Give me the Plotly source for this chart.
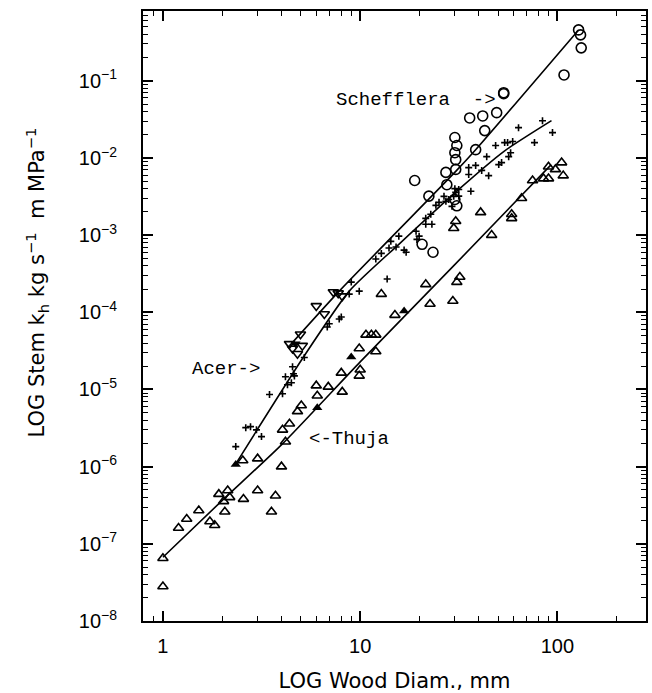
import plotly.graph_objects as go

# ---------------- data ----------------
# Thuja (open triangles)
thuja_x = [1.0, 1.0, 1.20, 1.32, 1.52, 1.73, 1.83, 1.92, 2.03, 2.06, 2.13, 2.18, 2.56, 3.02,
           3.55, 3.72, 3.99, 3.02, 2.54, 4.18, 4.04, 4.38, 4.81, 5.03, 5.99, 6.06, 6.89, 8.11,
           8.02, 9.89, 10.0, 9.89, 10.7, 11.4, 12.0, 12.0, 12.8, 15.0, 21.5, 22.6, 29.5, 30.9,
           32.0, 40.8, 30.5, 29.8, 46.4, 58.6, 58.6, 65.8, 74.8, 85.0, 90.1, 90.1, 97.7, 105, 107]
thuja_y = [6.5e-8, 2.8e-8, 1.6e-7, 2.1e-7, 2.7e-7, 1.95e-7, 1.74e-7, 4.4e-7, 3.55e-7, 2.6e-7,
           4.9e-7, 4.0e-7, 3.8e-7, 4.9e-7, 2.6e-7, 4.2e-7, 1.0e-6, 1.27e-6, 1.2e-6, 2.1e-6,
           3.0e-6, 3.6e-6, 5.2e-6, 6.2e-6, 1.12e-5, 8.3e-6, 1.08e-5, 9.3e-6, 1.64e-5, 3.4e-5,
           1.8e-5, 1.5e-5, 5.1e-5, 5.1e-5, 5.1e-5, 3.1e-5, 1.72e-4, 9.2e-5, 2.3e-4, 1.28e-4,
           1.4e-4, 2.46e-4, 2.86e-4, 1.97e-3, 1.51e-3, 1.23e-3, 1.0e-3, 1.86e-3, 1.65e-3, 3.0e-3,
           5.1e-3, 5.4e-3, 5.4e-3, 7.7e-3, 7.1e-3, 8.7e-3, 5.9e-3]

# filled triangles
filled_x = [2.34, 6.06, 9.01, 16.7]
filled_y = [1.07e-6, 5.8e-6, 2.64e-5, 1.04e-4]

# Schefflera (open circles)
sch_x = [128, 131, 132, 108, 53.4, 53.4, 35.9, 41.8, 49.2, 42.8, 38.5, 30.2, 30.9, 30.2, 30.5,
         30.5, 27.2, 27.5, 18.9, 22.3, 30.2, 30.9, 20.6, 23.4]
sch_y = [0.456, 0.393, 0.267, 0.119, 0.070, 0.068, 0.033, 0.035, 0.0386, 0.0226, 0.0128, 0.0184,
         0.0145, 0.0117, 0.0095, 0.0071, 0.0065, 0.0045, 0.0051, 0.0032, 0.0029, 0.0024,
         7.6e-4, 6.0e-4]

# small Schefflera stems (open inverted triangles)
inv_x = [7.31, 7.74, 8.11, 5.99, 6.58, 4.98, 4.38, 4.54, 4.81, 5.09]
inv_y = [1.83e-4, 1.77e-4, 1.62e-4, 1.21e-4, 9.5e-5, 5.2e-5, 3.9e-5, 3.4e-5, 2.9e-5, 3.7e-5]
inv_filled_x = [4.70]
inv_filled_y = [3.9e-5]

# Acer (plus signs)
acer_x = [2.34, 2.63, 2.78, 2.98, 3.16, 3.47, 4.18, 4.04, 4.28, 4.48, 4.59, 4.54, 4.64, 5.21,
          6.81, 6.97, 7.83, 8.02, 8.80, 9.01, 9.89, 12.0, 12.8, 13.7, 14.0, 14.3, 15.2, 15.7,
          16.7, 17.1, 19.2, 19.4, 19.9, 21.5, 21.5, 23.1, 22.8, 24.2, 25.1, 26.6, 27.2, 28.1,
          29.2, 29.8, 30.5, 31.6, 30.2, 31.6, 35.5, 38.5, 35.5, 36.4, 41.3, 43.8, 44.8, 48.6,
          50.4, 52.1, 54.0, 55.9, 56.6, 57.9, 59.3, 63.5, 76.5, 84.0, 94.4]
acer_y = [1.82e-6, 3.2e-6, 3.3e-6, 3.0e-6, 2.45e-6, 8.6e-6, 1.46e-5, 8.8e-6, 1.15e-5, 1.22e-5,
          1.6e-5, 1.97e-5, 1.5e-5, 2.6e-5, 6.45e-5, 7.1e-5, 8.2e-5, 8.7e-5, 1.72e-4, 2.46e-4,
          1.88e-4, 4.9e-4, 5.8e-4, 2.7e-4, 6.8e-4, 8.3e-4, 7.0e-4, 9.7e-4, 6.4e-4, 6.0e-4,
          1.12e-3, 8.8e-4, 9.7e-4, 1.65e-3, 1.38e-3, 1.38e-3, 1.86e-3, 2.43e-3, 2.66e-3,
          3.18e-3, 2.74e-3, 2.9e-3, 2.36e-3, 3.18e-3, 3.58e-3, 3.9e-3, 4.0e-3, 3.2e-3, 7.5e-3,
          8.0e-3, 6.1e-3, 3.7e-3, 6.9e-3, 1.04e-2, 5.9e-3, 1.45e-2, 8.2e-3, 8.7e-3, 1.58e-2,
          1.58e-2, 1.04e-2, 1.17e-2, 1.63e-2, 2.47e-2, 1.58e-2, 3.04e-2, 2.13e-2]

# fitted curves
thuja_fit_x = [1.0, 2.0, 4.0, 10.0, 30.0, 93.0]
thuja_fit_y = [6.7e-8, 3.66e-7, 1.93e-6, 2.28e-5, 4.08e-4, 8.2e-3]
acer_fit_x = [2.31, 5.09, 8.8, 15.7, 31.6, 53.4, 93.3]
acer_fit_y = [1.03e-6, 2.5e-5, 1.88e-4, 7.6e-4, 3.91e-3, 1.21e-2, 3.04e-2]
sch_fit_x = [4.38, 7.83, 30.5, 38.5, 128]
sch_fit_y = [3.67e-5, 1.88e-4, 6.7e-3, 1.28e-2, 0.456]

x_ticks = [1, 10, 100]
x_ticktext = ["1", "10", "100"]
y_exps = [-8, -7, -6, -5, -4, -3, -2, -1]

# ---------------- figure ----------------
fig = go.Figure()
LW = 1.6
for fx, fy in [(thuja_fit_x, thuja_fit_y), (acer_fit_x, acer_fit_y), (sch_fit_x, sch_fit_y)]:
    fig.add_trace(go.Scatter(x=fx, y=fy, mode="lines",
                             line=dict(color="black", width=LW, shape="spline", smoothing=0.6)))

fig.add_trace(go.Scatter(x=thuja_x, y=thuja_y, mode="markers",
                         marker=dict(symbol="triangle-up-open", size=9, color="black", line=dict(width=1.6))))
fig.add_trace(go.Scatter(x=filled_x, y=filled_y, mode="markers",
                         marker=dict(symbol="triangle-up", size=9, color="black")))
fig.add_trace(go.Scatter(x=sch_x, y=sch_y, mode="markers",
                         marker=dict(symbol="circle-open", size=10, color="black", line=dict(width=1.6))))
fig.add_trace(go.Scatter(x=inv_x, y=inv_y, mode="markers",
                         marker=dict(symbol="triangle-down-open", size=9, color="black", line=dict(width=1.6))))
fig.add_trace(go.Scatter(x=inv_filled_x, y=inv_filled_y, mode="markers",
                         marker=dict(symbol="triangle-down", size=9, color="black")))
fig.add_trace(go.Scatter(x=acer_x, y=acer_y, mode="markers",
                         marker=dict(symbol="cross-thin-open", size=5, color="black", line=dict(width=1.6))))

minor_x = [m * 10 ** e for e in range(-1, 3) for m in range(2, 10)]
minor_y = [m * 10.0 ** e for e in range(-8, 0) for m in range(2, 10)]

tickfont = dict(family="Liberation Sans, Arial, sans-serif", size=20, color="black")
titlefont = dict(family="DejaVu Sans, sans-serif", size=21, color="black")
fig.update_xaxes(type="log", range=[-0.101, 2.449], tickmode="array", tickvals=x_ticks,
                 ticktext=x_ticktext, ticks="inside", ticklen=10, tickwidth=1.5, tickcolor="black",
                 showline=True, linecolor="black", linewidth=2, mirror="ticks", showgrid=False,
                 zeroline=False, tickfont=tickfont, ticklabelstandoff=6,
                 minor=dict(tickmode="array", tickvals=minor_x, ticks="inside", ticklen=5,
                            tickwidth=1.2, tickcolor="black", showgrid=False),
                 title=dict(text="LOG Wood Diam., mm", standoff=17, font=titlefont))
fig.update_yaxes(type="log", range=[-8, -0.096], tickmode="array", tickvals=[10.0 ** e for e in y_exps],
                 ticktext=["10<sup>\u2212%d</sup>" % (-e) for e in y_exps], ticks="inside", ticklen=10,
                 tickwidth=1.5, tickcolor="black", showline=True, linecolor="black", linewidth=2,
                 mirror="ticks", showgrid=False, zeroline=False, tickfont=tickfont, ticklabelstandoff=20,
                 minor=dict(tickmode="array", tickvals=minor_y, ticks="inside", ticklen=5,
                            tickwidth=1.2, tickcolor="black", showgrid=False))

monofont = dict(family="Courier New, Liberation Mono, monospace", size=19, color="black")
fig.add_annotation(x=0.869, y=-1.245, xref="x", yref="y", text="Schefflera  ->", showarrow=False,
                   xanchor="left", yanchor="middle", font=monofont)
fig.add_annotation(x=0.136, y=-4.733, xref="x", yref="y", text="Acer->", showarrow=False,
                   xanchor="left", yanchor="middle", font=monofont)
fig.add_annotation(x=0.732, y=-5.637, xref="x", yref="y", text="<-Thuja", showarrow=False,
                   xanchor="left", yanchor="middle", font=monofont)
fig.add_annotation(x=0, y=0.555, xref="paper", yref="paper", xshift=-106, textangle=-90,
                   text="LOG Stem k<sub>h</sub> kg s<sup>\u22121</sup>  m MPa<sup>\u22121</sup>",
                   showarrow=False, xanchor="center", yanchor="middle", font=titlefont)

fig.update_layout(width=652, height=693, margin=dict(l=143, r=4, t=11, b=70),
                  paper_bgcolor="white", plot_bgcolor="white", showlegend=False)
fig.write_html("out.html")
